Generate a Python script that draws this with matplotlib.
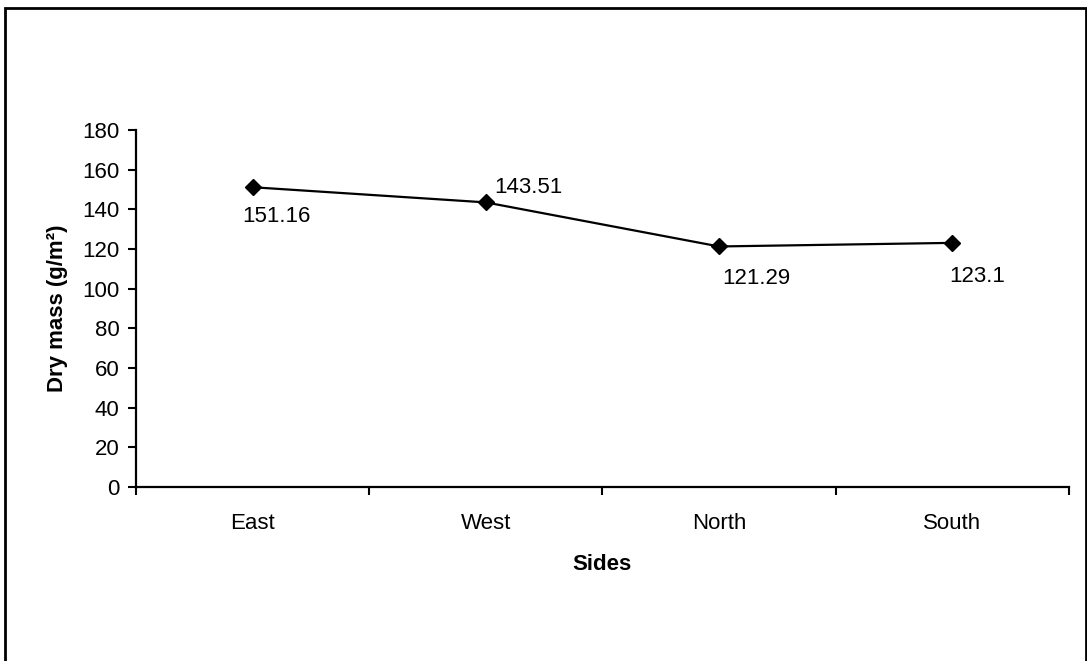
import matplotlib.pyplot as plt
from matplotlib.patches import Rectangle

plt.rcParams['font.family'] = ['Liberation Sans', 'DejaVu Sans']

sides = ['East', 'West', 'North', 'South']
dry_mass = [151.16, 143.51, 121.29, 123.1]
# label offsets in points (dx, dy) for each data label
label_offsets = [(17, -21), (31, 11), (27, -23), (18, -24)]
fs = 16

fig = plt.figure(figsize=(10.87, 6.61), dpi=100)
ax = fig.add_axes([0.1251, 0.2632, 0.8582, 0.5401])

x = list(range(1, len(sides) + 1))
ax.plot(x, dry_mass, color='black', lw=1.6, marker='D', ms=8,
        markerfacecolor='black', markeredgecolor='black')

for xi, v, (dx, dy) in zip(x, dry_mass, label_offsets):
    ax.annotate(f'{v:g}', (xi, v), xytext=(dx, dy), textcoords='offset points',
                ha='center', va='center', fontsize=fs)

ax.set_xlim(0.5, len(sides) + 0.5)
ax.set_ylim(0, 180)
ax.set_yticks(range(0, 181, 20))
ax.set_xticks(x)
ax.set_xticklabels(sides)
ax.set_xticks([i + 0.5 for i in range(len(sides) + 1)], minor=True)
ax.tick_params(axis='x', which='major', length=0, pad=19, labelsize=fs)
ax.tick_params(axis='x', which='minor', length=6, width=1.5, direction='out')
ax.tick_params(axis='y', length=6, width=1.5, labelsize=fs, pad=6)

for s in ['top', 'right']:
    ax.spines[s].set_visible(False)
for s in ['left', 'bottom']:
    ax.spines[s].set_linewidth(1.6)

ax.set_xlabel('Sides', fontsize=fs, fontweight='bold', labelpad=14)
ax.set_ylabel('Dry mass (g/m²)', fontsize=fs, fontweight='bold', labelpad=10)

# outer chart frame
fig.patches.append(Rectangle((5 / 1087, -0.01), 1081 / 1087, 1 - 8 / 661 + 0.01,
                             transform=fig.transFigure, fill=False,
                             edgecolor='black', lw=2, clip_on=False))

fig.savefig('out.png', dpi=100)
